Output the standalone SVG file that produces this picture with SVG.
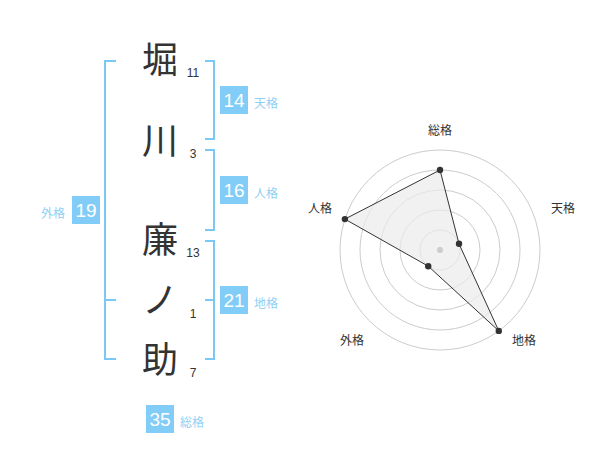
<svg xmlns="http://www.w3.org/2000/svg" width="600" height="470" viewBox="0 0 600 470">
<style>
.k{font-family:"Noto Sans CJK JP","Noto Sans CJK SC",sans-serif;font-size:36px;fill:#333;text-anchor:middle}
.n{font-family:"Liberation Sans",Arial,sans-serif;font-size:12px;fill:#333;text-anchor:middle}
.br{fill:none;stroke:#7cc8f5;stroke-width:2}
.bx{fill:#82cdf7}
.bt{font-family:"Liberation Sans",Arial,sans-serif;font-size:19px;fill:#fff;text-anchor:middle}
.lb{font-family:"Noto Sans CJK JP","Noto Sans CJK SC",sans-serif;font-size:12px;fill:#8fd0f5}
.rl{font-family:"Noto Sans CJK JP","Noto Sans CJK SC",sans-serif;font-size:12px;fill:#333;text-anchor:middle}
.ring{fill:none;stroke:#ccc;stroke-width:1}
.pt{fill:#333}
</style>
<rect width="600" height="470" fill="#fff"/>
<g id="name">
<g id="c1"><text class="k" x="160" y="73">堀</text><text class="n" x="193" y="77">11</text></g>
<g id="c2"><text class="k" x="160" y="154">川</text><text class="n" x="193" y="158">3</text></g>
<g id="c3"><text class="k" x="160" y="253">廉</text><text class="n" x="193" y="257">13</text></g>
<g id="c4"><text class="k" x="160" y="313">ノ</text><text class="n" x="193" y="318">1</text></g>
<g id="c5"><text class="k" x="160" y="373">助</text><text class="n" x="193" y="377">7</text></g>
</g>
<g id="connectors">
<path class="br" d="M116,61 H105 V359 H116 M105,300 H116"/>
<path class="br" d="M205,61 H214 V139 H205"/>
<path class="br" d="M205,150 H214 V230 H205"/>
<path class="br" d="M205,241 H214 V359 H205 M205,300 H214"/>
</g>
<g id="tenkaku"><rect class="bx" x="220" y="86" width="28" height="28"/><text class="bt" x="234" y="107">14</text><text class="lb" x="254" y="108">天格</text></g>
<g id="jinkaku"><rect class="bx" x="220" y="176" width="28" height="28"/><text class="bt" x="234" y="197">16</text><text class="lb" x="254" y="198">人格</text></g>
<g id="chikaku"><rect class="bx" x="220" y="286" width="28" height="28"/><text class="bt" x="234" y="307">21</text><text class="lb" x="254" y="308">地格</text></g>
<g id="gaikaku"><rect class="bx" x="72" y="196" width="28" height="28"/><text class="bt" x="86" y="217">19</text><text class="lb" x="41" y="218">外格</text></g>
<g id="soukaku"><rect class="bx" x="146" y="405" width="28" height="28"/><text class="bt" x="160" y="426">35</text><text class="lb" x="180" y="427">総格</text></g>
<g id="radar">
<circle class="ring" cx="440" cy="250" r="20"/>
<circle class="ring" cx="440" cy="250" r="40"/>
<circle class="ring" cx="440" cy="250" r="60"/>
<circle class="ring" cx="440" cy="250" r="80"/>
<circle class="ring" cx="440" cy="250" r="100"/>
<polygon points="440,170 459.02,243.82 498.78,330.9 428.24,266.18 344.89,219.1" fill="#ebebeb" fill-opacity="0.7" stroke="#333" stroke-width="1"/>
<circle cx="440" cy="250" r="3" fill="#ccc"/>
<circle class="pt" cx="440" cy="170" r="3.2"/>
<circle class="pt" cx="459.02" cy="243.82" r="3.2"/>
<circle class="pt" cx="498.78" cy="330.9" r="3.2"/>
<circle class="pt" cx="428.24" cy="266.18" r="3.2"/>
<circle class="pt" cx="344.89" cy="219.1" r="3.2"/>
<text class="rl" x="440" y="135">総格</text>
<text class="rl" x="563" y="213">天格</text>
<text class="rl" x="524" y="345">地格</text>
<text class="rl" x="352" y="345">外格</text>
<text class="rl" x="320" y="213">人格</text>
</g>
</svg>
